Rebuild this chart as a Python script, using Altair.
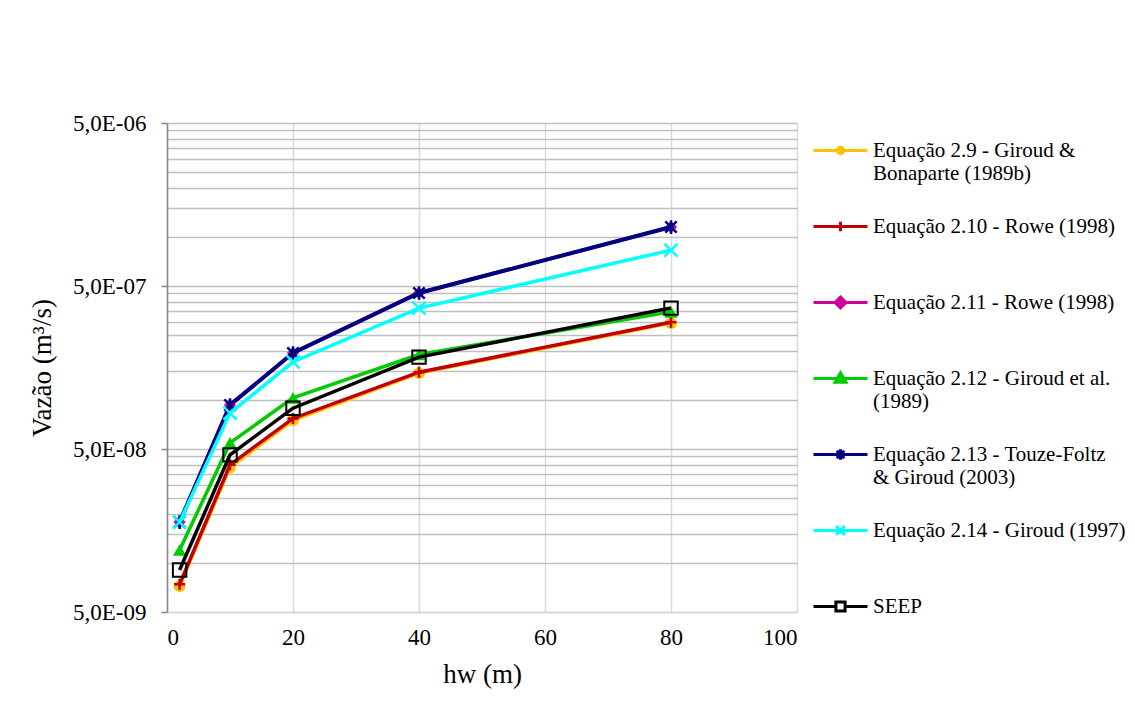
import altair as alt
import pandas as pd

# ---- data ----
hw = [2, 10, 20, 40, 80]
series_names = [
    "Equação 2.9 - Giroud &\nBonaparte (1989b)",
    "Equação 2.10 - Rowe (1998)",
    "Equação 2.11 - Rowe (1998)",
    "Equação 2.12 - Giroud et al.\n(1989)",
    "Equação 2.13 - Touze-Foltz\n& Giroud (2003)",
    "Equação 2.14 - Giroud (1997)",
    "SEEP",
]
eq29 = [7.2e-9, 3.85e-8, 7.5e-8, 1.46e-7, 2.96e-7]
eq210 = [7.4e-9, 4.0e-8, 7.7e-8, 1.48e-7, 3.0e-7]
eq211 = [1.78e-8, 9.3e-8, 1.94e-7, 4.53e-7, 1.15e-6]
eq212 = [1.2e-8, 5.45e-8, 1.03e-7, 1.9e-7, 3.47e-7]
eq213 = [1.78e-8, 9.3e-8, 1.94e-7, 4.53e-7, 1.15e-6]
eq214 = [1.78e-8, 8.3e-8, 1.71e-7, 3.66e-7, 8.3e-7]
seep = [9.05e-9, 4.6e-8, 8.9e-8, 1.83e-7, 3.66e-7]
all_values = [eq29, eq210, eq211, eq212, eq213, eq214, seep]

x_ticks = [0, 20, 40, 60, 80, 100]
y_major_labels = ["5,0E-09", "5,0E-08", "5,0E-07", "5,0E-06"]

# ---- styles ----
colors = ["#FFC000", "#C00000", "#CC0099", "#00CC00", "#000080", "#00FFFF", "#000000"]
line_widths = [3.5, 3.5, 3.5, 3.5, 4, 3.5, 3.5]
marker_shapes = [
    "circle",
    "M-1,0H1M0,-1V1",
    "diamond",
    "triangle-up",
    "M-1,-1L1,1M-1,1L1,-1M0,-1.2V1.2",
    "M-1,-1L1,1M-1,1L1,-1",
    "square",
]
marker_filled = [True, False, True, True, False, False, False]
marker_sizes = [140, 120, 150, 180, 130, 170, 180]
marker_strokes = [1, 2.5, 1, 1, 2.5, 2.5, 2]
legend_paths = [
    "M-1,0H1M-0.05,0A0.05,0.05 0 1,0 0.05,0A0.05,0.05 0 1,0 -0.05,0ZM-0.12,0A0.12,0.12 0 1,0 0.12,0A0.12,0.12 0 1,0 -0.12,0Z",
    "M-1,0H1M0,-0.18V0.18",
    "M-1,0H1M0,-0.2L0.2,0L0,0.2L-0.2,0ZM0,-0.09L0.09,0L0,0.09L-0.09,0Z",
    "M-1,0H1M0,-0.21L0.2,0.14L-0.2,0.14ZM0,-0.07L0.07,0.05L-0.07,0.05Z",
    "M-1,0H1M-0.14,-0.14L0.14,0.14M-0.14,0.14L0.14,-0.14M0,-0.19V0.19",
    "M-1,0H1M-0.16,-0.16L0.16,0.16M-0.16,0.16L0.16,-0.16",
    "M-1,0H-0.17M0.17,0H1M-0.17,-0.17H0.17V0.17H-0.17Z",
]

rows = []
for name, vals in zip(series_names, all_values):
    for x, v in zip(hw, vals):
        rows.append({"hw": x, "q": v, "serie": name})
df = pd.DataFrame(rows)

FONT = "Liberation Serif"

# y grid values: multiples of 5E-n within each decade
y_grid = []
for d in [1e-9, 1e-8, 1e-7]:
    for k in range(1, 10):
        y_grid.append(round(5 * k * d, 15))
y_grid.append(5e-6)

major_test = "abs(log(datum.value/5e-9)/LN10 - round(log(datum.value/5e-9)/LN10)) < 1e-6"
label_expr = (
    f"({major_test}) ? " + str(y_major_labels) + "[round(log(datum.value/5e-9)/LN10)] : ''"
)

x_enc = alt.X(
    "hw:Q",
    scale=alt.Scale(domain=[0, 100], nice=False),
    axis=alt.Axis(
        values=x_ticks,
        title="hw (m)",
        grid=True,
        gridColor="#d9d9d9",
        gridWidth=1.5,
        domainColor="#d9d9d9",
        domainWidth=1.5,
        ticks=False,
        labelPadding=14,
        labelFont=FONT,
        labelFontSize=23,
        labelColor="black",
        titleFont=FONT,
        titleFontSize=27,
        titleFontWeight="normal",
        titleColor="black",
        titlePadding=12,
    ),
)
y_enc = alt.Y(
    "q:Q",
    scale=alt.Scale(type="log", domain=[5e-9, 5e-6], nice=False),
    axis=alt.Axis(
        values=y_grid,
        title="Vazão (m³/s)",
        grid=True,
        gridColor="#bfbfbf",
        gridWidth=1.5,
        domainColor="#868686",
        domainWidth=1.5,
        tickColor="#868686",
        tickSize=6,
        tickWidth=1.5,
        tickOpacity={"condition": {"test": major_test, "value": 1}, "value": 0},
        labelExpr=label_expr,
        labelOverlap=False,
        labelPadding=15,
        labelFont=FONT,
        labelFontSize=23,
        labelColor="black",
        titleFont=FONT,
        titleFontSize=27,
        titleFontWeight="normal",
        titleColor="black",
        titlePadding=16,
    ),
)

base = alt.Chart(df)
layers = []
for i, name in enumerate(series_names):
    sub = base.transform_filter(alt.datum.serie == name)
    layers.append(
        sub.mark_line(color=colors[i], strokeWidth=line_widths[i]).encode(x=x_enc, y=y_enc)
    )
    pt_kwargs = dict(shape=marker_shapes[i], size=marker_sizes[i], opacity=1,
                     strokeWidth=marker_strokes[i])
    if marker_filled[i]:
        pt_kwargs.update(filled=True, color=colors[i])
    else:
        pt_kwargs.update(filled=False, stroke=colors[i], fill="transparent")
    layers.append(sub.mark_point(**pt_kwargs).encode(x=x_enc, y=y_enc))

legend_kwargs = dict(
    title=None,
    orient="none",
    legendX=645,
    legendY=-1,
    padding=0,
    symbolSize=2916,
    symbolStrokeWidth=3,
    symbolOpacity=1,
    rowPadding=14,
    labelFont=FONT,
    labelFontSize=21,
    labelColor="black",
    labelLimit=400,
    labelOffset=4,
    labelExpr="indexof(datum.label, '\\n') >= 0 ? split(datum.label, '\\n') : [datum.label, ' ']",
)

legend_layer = base.transform_filter("false").mark_point(
    filled=False, size=2916, strokeWidth=3, opacity=1
).encode(
    x=x_enc,
    y=y_enc,
    color=alt.Color(
        "serie:N",
        scale=alt.Scale(domain=series_names, range=colors),
        legend=alt.Legend(**legend_kwargs),
    ),
    shape=alt.Shape(
        "serie:N",
        scale=alt.Scale(domain=series_names, range=legend_paths),
        legend=alt.Legend(**legend_kwargs),
    ),
)
layers.append(legend_layer)

chart = (
    alt.layer(*layers)
    .properties(
        width=630,
        height=489,
        autosize=alt.AutoSizeParams(type="none"),
        padding={"left": 159, "top": 115, "right": 330, "bottom": 98},
        background="white",
    )
    .configure_view(stroke=None)
    .configure_legend(labelFont=FONT, labelFontSize=21, labelColor="black",
                      symbolStrokeWidth=3, symbolOpacity=1)
)

chart.save("out.html", embed_options={"renderer": "svg", "actions": False})
